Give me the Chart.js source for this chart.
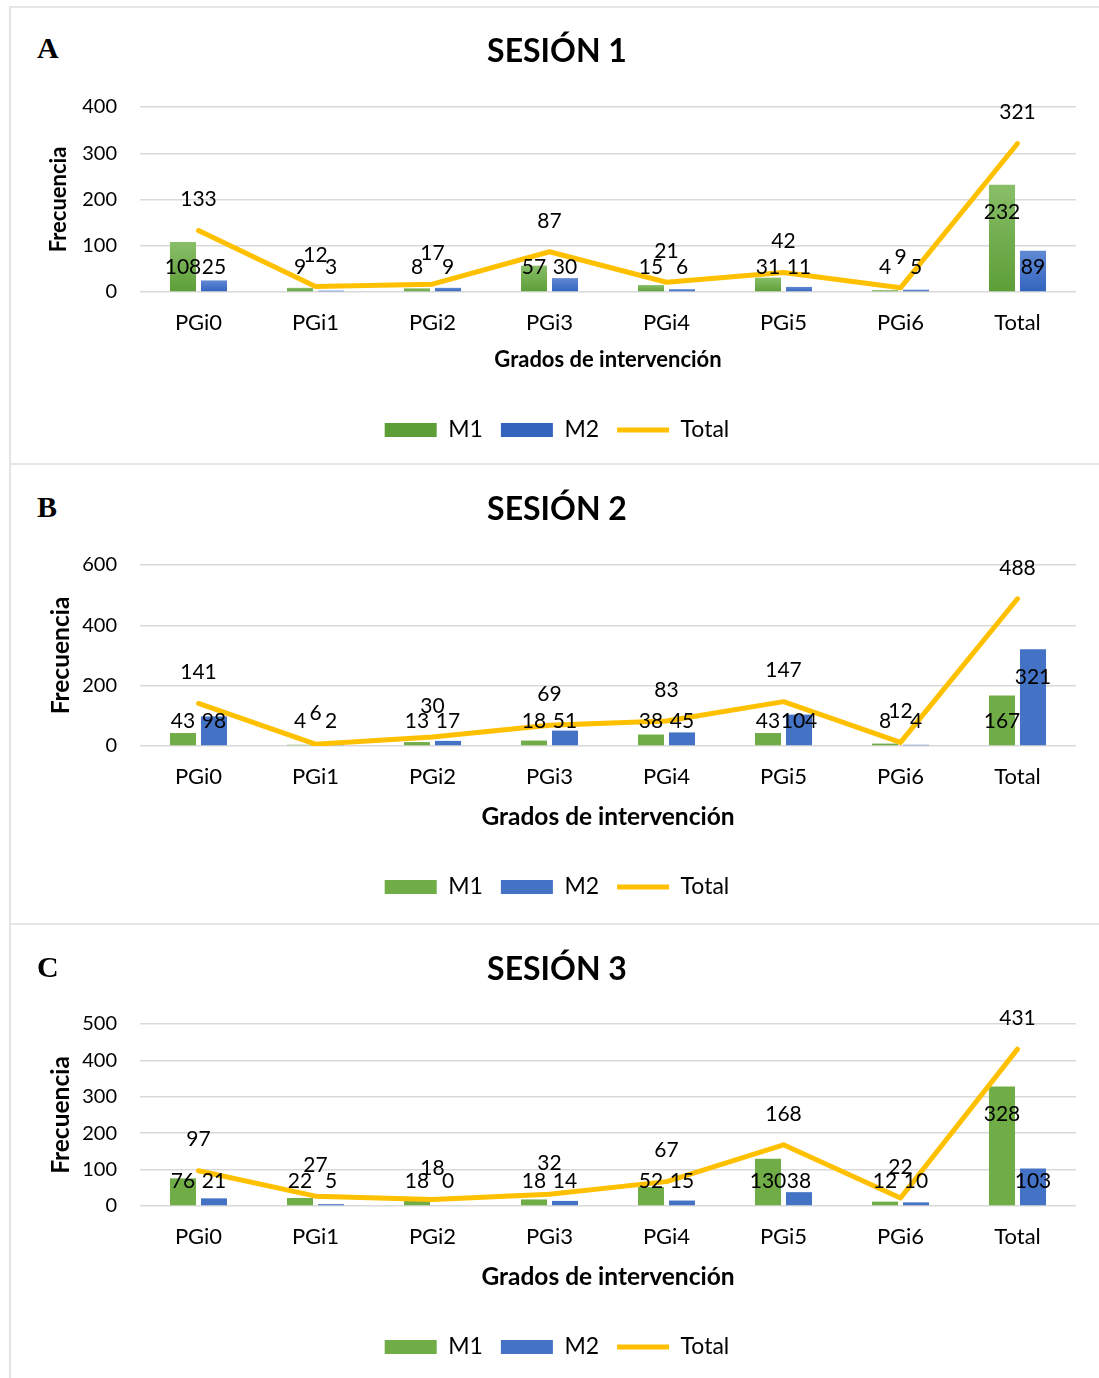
<!DOCTYPE html>
<html>
<head>
<meta charset="utf-8">
<script src="https://cdn.jsdelivr.net/npm/chart.js@4.4.1/dist/chart.umd.min.js"></script>
<style>
  body { margin: 0; background: #fff; width: 1099px; height: 1378px; position: relative; overflow: hidden; }
  .panel { position: absolute; left: 9px; width: 1090px; border-left: 2px solid #e4e4e4; border-top: 2px solid #e4e6ea; box-sizing: border-box; }
  .panel canvas { position: absolute; left: 0; top: 0; }
  .letter { position: absolute; left: 26px; font-family: "Liberation Serif", "DejaVu Serif", serif; font-weight: bold; font-size: 30px; line-height: 30px; color: #000; }
</style>
</head>
<body>
<div class="panel" id="panelA" style="top:6px;height:458px;"><div class="letter" style="top:25px;">A</div><canvas id="chartA"></canvas></div>
<div class="panel" id="panelB" style="top:463px;height:461px;"><div class="letter" style="top:27px;">B</div><canvas id="chartB"></canvas></div>
<div class="panel" id="panelC" style="top:923px;height:455px;"><div class="letter" style="top:27px;">C</div><canvas id="chartC"></canvas></div>

<script>
// Categories
const categories = ['PGi0', 'PGi1', 'PGi2', 'PGi3', 'PGi4', 'PGi5', 'PGi6', 'Total'];

// Sesión 1
const s1M1 = [108, 9, 8, 57, 15, 31, 4, 232];
const s1M2 = [25, 3, 9, 30, 6, 11, 5, 89];
const s1Total = [133, 12, 17, 87, 21, 42, 9, 321];

// Sesión 2
const s2M1 = [43, 4, 13, 18, 38, 43, 8, 167];
const s2M2 = [98, 2, 17, 51, 45, 104, 4, 321];
const s2Total = [141, 6, 30, 69, 83, 147, 12, 488];

// Sesión 3
const s3M1 = [76, 22, 18, 18, 52, 130, 12, 328];
const s3M2 = [21, 5, 0, 14, 15, 38, 10, 103];
const s3Total = [97, 27, 18, 32, 67, 168, 22, 431];

// Y axis ticks (max, step)
const s1Axis = [400, 100];
const s2Axis = [600, 200];
const s3Axis = [500, 100];

const FONT = 'Lato, "Open Sans", sans-serif';
const GREEN = '#70AD47';
const BLUE = '#4472C4';
const YELLOW = '#FFC000';

// Per-bar vertical gradient (only used in session 1)
function barGradient(light, dark, solid) {
    return (ctx) => {
        const chart = ctx.chart;
        const y = chart.scales && chart.scales.y;
        if (!chart.chartArea || !y || ctx.type !== 'data') return solid;
        const top = y.getPixelForValue(ctx.raw);
        const bottom = y.getPixelForValue(0);
        if (!isFinite(top) || bottom - top < 1) return solid;
        const g = chart.ctx.createLinearGradient(0, top, 0, bottom);
        g.addColorStop(0, light);
        g.addColorStop(1, dark);
        return g;
    };
}

// Value labels like Excel: bars inside end, line above
const valueLabels = {
    id: 'valueLabels',
    afterDatasetsDraw(chart) {
        const ctx = chart.ctx;
        const zeroY = chart.scales.y.getPixelForValue(0);
        ctx.save();
        ctx.font = '21px ' + FONT;
        ctx.fillStyle = '#000';
        ctx.textAlign = 'center';
        ctx.textBaseline = 'middle';
        chart.data.datasets.forEach((ds, i) => {
            const meta = chart.getDatasetMeta(i);
            meta.data.forEach((el, j) => {
                const v = ds.data[j];
                let y;
                if (ds.type === 'line') {
                    y = el.y - 31;
                } else {
                    y = Math.min(el.y + 28, zeroY - 25);
                }
                ctx.fillText(String(v), el.x, y);
            });
        });
        ctx.restore();
    }
};

function makeChart(id, title, m1, m2, total, axis, layout, gradient) {
    const W = 1088, H = layout.height;
    const canvas = document.getElementById(id);
    canvas.width = W;
    canvas.height = H;
    canvas.style.width = W + 'px';
    canvas.style.height = H + 'px';

    const titleSize = 32, titleLH = titleSize * 1.2;
    const tickSize = 22, tickLH = tickSize * 1.2;
    const legendSize = 23, legendPad = 18;
    const padLeft = 27, areaLeft = 129;
    const padBottom = H - 10 - legendSize / 2 - layout.legendY;
    const legendH = legendSize + legendPad + 10;
    const xAxisH = H - padBottom - legendH - layout.areaBottom;
    const at = layout.axisTitleSize;

    const m1Color = gradient ? barGradient('#88BE68', '#5D9E37', GREEN) : GREEN;
    const m2Color = gradient ? barGradient('#6189D3', '#3264BE', BLUE) : BLUE;

    return new Chart(canvas, {
        type: 'bar',
        data: {
            labels: categories,
            datasets: [
                { label: 'M1', data: m1, backgroundColor: m1Color, borderWidth: 0, order: 1, pointStyle: 'rect' },
                { label: 'M2', data: m2, backgroundColor: m2Color, borderWidth: 0, order: 1, pointStyle: 'rect' },
                {
                    type: 'line', label: 'Total', data: total,
                    borderColor: YELLOW, backgroundColor: YELLOW, borderWidth: 5,
                    borderCapStyle: 'round', borderJoinStyle: 'round',
                    pointRadius: 0, pointStyle: 'line', tension: 0, order: 0
                }
            ]
        },
        options: {
            responsive: false,
            animation: false,
            devicePixelRatio: 1,
            categoryPercentage: 0.53,
            barPercentage: 0.84,
            layout: { padding: { left: padLeft, right: 23, top: 0, bottom: padBottom } },
            plugins: {
                tooltip: { enabled: false },
                title: {
                    display: true,
                    text: title,
                    color: '#000',
                    font: { family: FONT, size: titleSize, weight: 'bold' },
                    padding: { top: layout.titleY - titleLH / 2, bottom: layout.areaTop - layout.titleY - titleLH / 2 }
                },
                legend: {
                    position: 'bottom',
                    labels: {
                        color: '#000',
                        font: { family: FONT, size: legendSize },
                        usePointStyle: true,
                        pointStyleWidth: 52,
                        boxHeight: 14,
                        padding: legendPad,
                        sort: (a, b) => a.datasetIndex - b.datasetIndex
                    }
                }
            },
            scales: {
                x: {
                    grid: { display: false },
                    border: { display: false },
                    ticks: { color: '#000', font: { family: FONT, size: tickSize }, padding: layout.tickY - layout.areaBottom - tickLH / 2 - 8 },
                    title: {
                        display: true,
                        text: 'Grados de intervención',
                        color: '#000',
                        font: { family: FONT, size: at, weight: 'bold' },
                        padding: { top: 0, bottom: layout.areaBottom + xAxisH - layout.xTitleY - at * 0.6 }
                    },
                    afterFit(scale) { scale.height = xAxisH; }
                },
                y: {
                    min: 0,
                    max: axis[0],
                    grid: { color: '#d9d9d9', lineWidth: 1.5, drawTicks: false },
                    border: { display: false },
                    ticks: { stepSize: axis[1], color: '#000', font: { family: FONT, size: 20 }, padding: 23 },
                    title: {
                        display: true,
                        text: 'Frecuencia',
                        color: '#000',
                        font: { family: FONT, size: at, weight: 'bold' },
                        padding: { top: layout.yTitleX - padLeft - at * 0.6, bottom: 0 }
                    },
                    afterFit(scale) { scale.width = areaLeft - padLeft; }
                }
            }
        },
        plugins: [valueLabels]
    });
}

// Positions relative to each panel canvas
makeChart('chartA', 'SESIÓN 1', s1M1, s1M2, s1Total, s1Axis,
    { height: 454, titleY: 44, areaTop: 99, areaBottom: 284, tickY: 315, xTitleY: 352, legendY: 422, yTitleX: 48, axisTitleSize: 22 }, true);
makeChart('chartB', 'SESIÓN 2', s2M1, s2M2, s2Total, s2Axis,
    { height: 459, titleY: 45, areaTop: 100, areaBottom: 281, tickY: 312, xTitleY: 352, legendY: 422, yTitleX: 50, axisTitleSize: 24.5 }, false);
makeChart('chartC', 'SESIÓN 3', s3M1, s3M2, s3Total, s3Axis,
    { height: 453, titleY: 45, areaTop: 99, areaBottom: 281, tickY: 312, xTitleY: 352, legendY: 422, yTitleX: 50, axisTitleSize: 24.5 }, false);
</script>
</body>
</html>
